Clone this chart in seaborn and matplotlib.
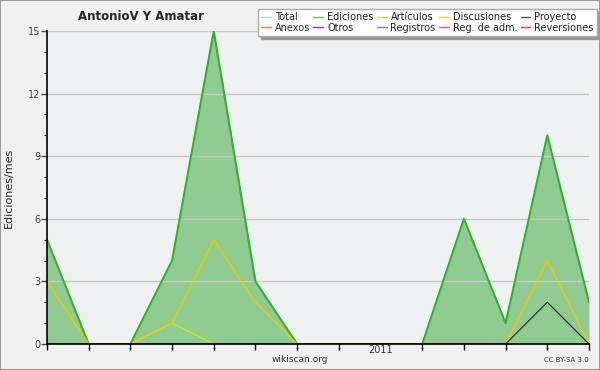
import matplotlib
matplotlib.use("Agg")
import matplotlib.pyplot as plt
import seaborn as sns
import pandas as pd
import numpy as np
from matplotlib.lines import Line2D
from matplotlib.ticker import MultipleLocator, FixedLocator

months = list(range(14))  # May 2010 .. Jun 2011
tick_labels = ["", "", "", "", "", "", "", "", "2011", "", "", "", "", ""]
ediciones = [5, 0, 0, 4, 15, 3, 0, 0, 0, 0, 6, 1, 10, 2]
articulos = [0, 0, 0, 1, 0, 0, 0, 0, 0, 0, 0, 0, 0, 0]
discusiones = [3, 0, 0, 1, 5, 2, 0, 0, 0, 0, 0, 0, 4, 0]
proyecto = [0, 0, 0, 0, 0, 0, 0, 0, 0, 0, 0, 0, 2, 0]

legend_names = ["Total", "Ediciones", "Artículos", "Discusiones", "Proyecto",
                "Anexos", "Otros", "Registros", "Reg. de adm.", "Reversiones"]
legend_colors = ["#99dddd", "#66bb66", "#bbee33", "#ffcc33", "#555555",
                 "#ff7f40", "#8833ee", "#7777ff", "#dd44ee", "#ff3333"]

df = pd.DataFrame({"mes": months, "Ediciones": ediciones, "Artículos": articulos,
                   "Discusiones": discusiones, "Proyecto": proyecto})

sns.set_theme(style="white")
plt.rcParams["font.family"] = ["DejaVu Sans"]

fig = plt.figure(figsize=(6, 3.7), dpi=100, facecolor="#f0f0f0")
ax = fig.add_axes([47/600, 26/370, 542/600, 313/370])
ax.set_facecolor("#eff0f1")

ax.fill_between(df["mes"], 0, df["Ediciones"], color="#33aa33", alpha=0.5, lw=0, zorder=1)
ax.grid(axis="y", color="#c8c8c8", lw=1, zorder=2)
ax.set_axisbelow(False)
sns.lineplot(data=df, x="mes", y="Ediciones", ax=ax, color="#33b033", lw=1.5, zorder=3)
sns.lineplot(data=df, x="mes", y="Artículos", ax=ax, color="#bbee22", lw=1, zorder=4)
sns.lineplot(data=df, x="mes", y="Discusiones", ax=ax, color="#eec800", lw=1, zorder=5)
sns.lineplot(data=df, x="mes", y="Proyecto", ax=ax, color="#222222", lw=0.8, zorder=6)

ax.set_xlim(0, 13)
ax.set_ylim(0, 15)
ax.yaxis.set_major_locator(MultipleLocator(3))
ax.yaxis.set_minor_locator(MultipleLocator(1))
major = [m for m, l in zip(months, tick_labels) if not l]
ax.xaxis.set_major_locator(FixedLocator(major))
ax.set_xticklabels([])
ax.xaxis.set_minor_locator(FixedLocator([m for m, l in zip(months, tick_labels) if l]))
ax.set_xticklabels([l for l in tick_labels if l], minor=True)
ax.tick_params(axis="x", which="major", direction="out", length=4, width=1, color="black", bottom=True)
ax.tick_params(axis="x", which="minor", length=0, labelsize=7, colors="#333333", pad=1, bottom=True)
ax.tick_params(axis="y", which="major", direction="out", length=4, width=1, labelsize=7, colors="#444444", pad=1, left=True)
ax.tick_params(axis="y", which="minor", direction="out", length=2, width=0.8, left=True)
for t in ax.get_yticklines():
    t.set_color("black")
for s in ["top", "right"]:
    ax.spines[s].set_visible(False)
for s in ["left", "bottom"]:
    ax.spines[s].set_color("black")
    ax.spines[s].set_linewidth(1.2)
    ax.spines[s].set_zorder(10)
ax.set_xlabel("")
ax.set_ylabel("Ediciones/mes", fontsize=8, labelpad=10)

fig.text(141/600, 1 - 17/370, "AntonioV Y Amatar", fontsize=8.5, fontweight="bold", ha="center", va="center")
fig.text(300/600, 1 - 360/370, "wikiscan.org", fontsize=6.5, ha="center", va="center", color="#333333")
fig.text(589/600, 1 - 360/370, "CC BY-SA 3.0", fontsize=5, ha="right", va="center", color="#333333")

handles = [Line2D([0], [0], color=c, lw=1) for c in legend_colors]
order = [0, 5, 1, 6, 2, 7, 3, 8, 4, 9]
leg = fig.legend([handles[i] for i in order], [legend_names[i] for i in order],
                 ncol=5, loc="upper right", bbox_to_anchor=(597/600, 1 - 9/370),
                 fontsize=7, frameon=True, fancybox=False, shadow={"color": "#999999", "alpha": 1},
                 handlelength=1.0, handletextpad=0.4, columnspacing=0.35,
                 labelspacing=0.05, borderpad=0.35, borderaxespad=0)
leg.get_frame().set_edgecolor("#aaaaaa")
leg.get_frame().set_facecolor("white")
for t in leg.get_texts():
    t.set_color("#222222")

fig.patches.append(plt.Rectangle((0, 0), 1, 1, transform=fig.transFigure, fill=False,
                                 edgecolor="#999999", lw=1.5))
fig.savefig("out.png", dpi=100, facecolor=fig.get_facecolor())
